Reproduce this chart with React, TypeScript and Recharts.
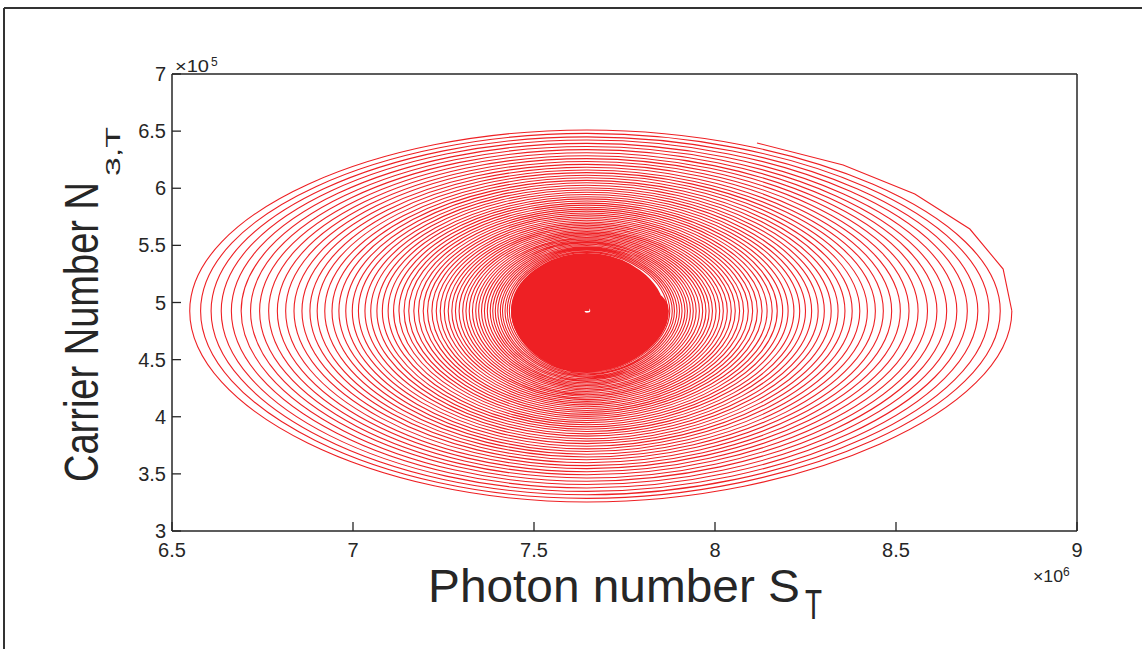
import { LineChart, Line, XAxis, YAxis } from "recharts"

// photon number S (x 10^6) and carrier number N (x 10^5)
// first stretch of the trajectory, read vertex by vertex
const leadS = [8.116, 8.354, 8.552, 8.704, 8.796, 8.82]
const leadN = [6.396, 6.204, 5.95, 5.643, 5.293, 4.926]
const centreS = 7.646
const centreN = 4.926

// extreme points of each turn of the spiral, outermost first
const rightS = [
  8.82, 8.788, 8.757, 8.726, 8.697, 8.668, 8.64, 8.613, 8.587, 8.561,
  8.536, 8.512, 8.488, 8.465, 8.443, 8.421, 8.4, 8.379, 8.359, 8.34,
  8.321, 8.302, 8.285, 8.267, 8.25, 8.234, 8.218, 8.202, 8.187, 8.172,
  8.158, 8.144, 8.13, 8.117, 8.104, 8.092, 8.079, 8.068, 8.056, 8.045,
  8.034, 8.023, 8.013, 8.003, 7.993, 7.984, 7.975, 7.966, 7.957, 7.948,
  7.94, 7.932, 7.924, 7.917, 7.909, 7.902, 7.895, 7.888, 7.882, 7.875, 7.869,
]
const lowN = [
  3.254, 3.286, 3.317, 3.347, 3.377, 3.407, 3.436, 3.464, 3.492, 3.519,
  3.546, 3.572, 3.598, 3.623, 3.648, 3.672, 3.696, 3.719, 3.742, 3.765,
  3.787, 3.808, 3.83, 3.85, 3.871, 3.891, 3.911, 3.93, 3.949, 3.967,
  3.986, 4.003, 4.021, 4.038, 4.055, 4.072, 4.088, 4.104, 4.119, 4.135,
  4.15, 4.164, 4.179, 4.193, 4.207, 4.221, 4.234, 4.247, 4.26, 4.273,
  4.285, 4.297, 4.309, 4.321, 4.332, 4.344, 4.355, 4.366, 4.376, 4.387, 4.397,
]
const leftS = [
  6.549, 6.579, 6.608, 6.636, 6.664, 6.691, 6.717, 6.742, 6.767, 6.791,
  6.814, 6.837, 6.859, 6.881, 6.901, 6.922, 6.942, 6.961, 6.98, 6.998,
  7.015, 7.033, 7.049, 7.066, 7.081, 7.097, 7.112, 7.127, 7.141, 7.154,
  7.168, 7.181, 7.194, 7.206, 7.218, 7.23, 7.241, 7.252, 7.263, 7.273,
  7.283, 7.293, 7.303, 7.312, 7.321, 7.33, 7.339, 7.347, 7.355, 7.363,
  7.371, 7.379, 7.386, 7.393, 7.4, 7.407, 7.413, 7.42, 7.426, 7.432, 7.438,
]
const highN = [
  6.51, 6.48, 6.45, 6.422, 6.393, 6.365, 6.338, 6.311, 6.285, 6.259,
  6.234, 6.209, 6.184, 6.16, 6.137, 6.114, 6.092, 6.069, 6.048, 6.026,
  6.005, 5.985, 5.965, 5.945, 5.926, 5.907, 5.888, 5.87, 5.852, 5.834,
  5.817, 5.8, 5.783, 5.767, 5.751, 5.735, 5.72, 5.705, 5.69, 5.676,
  5.662, 5.648, 5.634, 5.62, 5.607, 5.594, 5.582, 5.569, 5.557, 5.545,
  5.533, 5.522, 5.51, 5.499, 5.488, 5.478, 5.467, 5.457, 5.447, 5.437, 5.427,
]

// the dense core, where single turns can no longer be told apart
const coreRightS = [7.866, 7.853, 7.84, 7.828, 7.815, 7.802, 7.789, 7.777, 7.764, 7.751, 7.739, 7.726, 7.713, 7.7, 7.688, 7.675, 7.662]
const coreLowN = [4.414, 4.444, 4.474, 4.503, 4.533, 4.563, 4.593, 4.622, 4.652, 4.682, 4.712, 4.741, 4.771, 4.801, 4.831, 4.86, 4.89]
const coreLeftS = [7.443, 7.455, 7.467, 7.479, 7.491, 7.502, 7.514, 7.526, 7.538, 7.55, 7.562, 7.574, 7.586, 7.597, 7.609, 7.621, 7.633]
const coreHighN = [5.412, 5.384, 5.356, 5.328, 5.3, 5.272, 5.244, 5.216, 5.188, 5.16, 5.132, 5.104, 5.076, 5.048, 5.02, 4.992, 4.964]

const xTicks = [6.5, 7, 7.5, 8, 8.5, 9]
const yTicks = [3, 3.5, 4, 4.5, 5, 5.5, 6, 6.5, 7]

type Pt = { s: number; n: number }

const turns = (r: number[], lo: number[], l: number[], hi: number[]): Pt[] => {
  const pts: Pt[] = []
  r.forEach((_, k) => {
    pts.push({ s: r[k], n: centreN })
    pts.push({ s: centreS, n: lo[k] })
    pts.push({ s: l[k], n: centreN })
    pts.push({ s: centreS, n: hi[k] })
  })
  return pts
}

const leadPts: Pt[] = leadS.map((s, i) => ({ s, n: leadN[i] }))
const outerPts: Pt[] = turns(rightS, lowN, leftS, highN)
const corePts: Pt[] = [
  outerPts[outerPts.length - 1],
  ...turns(coreRightS, coreLowN, coreLeftS, coreHighN),
  { s: centreS, n: centreN },
]

// local cubic through the quarter-turn points, tangents sized for round turns;
// the first point is an extreme of its turn, so its tangent mirrors the next point
const roundCurve = (context: any) => {
  let pts: number[][] = []
  return {
    areaStart() {},
    areaEnd() {},
    lineStart() {
      pts = []
    },
    point(x: number, y: number) {
      pts.push([x, y])
    },
    lineEnd() {
      const n = pts.length
      if (n < 2) return
      const tan = (i: number) => {
        if (i === 0) {
          const b = pts[1]
          const a = [b[0], 2 * pts[0][1] - b[1]]
          return [(b[0] - a[0]) * 0.785, (b[1] - a[1]) * 0.785]
        }
        const a = pts[i - 1]
        const b = pts[Math.min(i + 1, n - 1)]
        const f = i === n - 1 ? 1 : 0.785
        return [(b[0] - a[0]) * f, (b[1] - a[1]) * f]
      }
      context.moveTo(pts[0][0], pts[0][1])
      for (let i = 0; i < n - 1; i++) {
        const m0 = tan(i)
        const m1 = tan(i + 1)
        context.bezierCurveTo(
          pts[i][0] + m0[0] / 3,
          pts[i][1] + m0[1] / 3,
          pts[i + 1][0] - m1[0] / 3,
          pts[i + 1][1] - m1[1] / 3,
          pts[i + 1][0],
          pts[i + 1][1]
        )
      }
    },
  }
}

const ink = "#262626"
const red = "#ee2024"
const font = "'Liberation Sans', Arial, sans-serif"

export default function App() {
  const tickStyle = { fill: ink, fontSize: 20, fontFamily: font }
  return (
    <div style={{ position: "absolute", left: 0, top: 0, width: 1142, height: 649, background: "#fff" }}>
      <LineChart width={1142} height={649} margin={{ top: 73, right: 64, bottom: 78, left: 112 }}>
        <XAxis
          dataKey="s"
          type="number"
          domain={[6.5, 9]}
          ticks={xTicks}
          height={40}
          stroke={ink}
          tick={tickStyle}
          tickSize={-9}
          tickMargin={21}
          tickFormatter={(v: number) => String(v)}
          axisLine={{ strokeWidth: 1.5 }}
          tickLine={{ strokeWidth: 1.3 }}
          allowDataOverflow
        />
        <XAxis
          xAxisId="top"
          orientation="top"
          type="number"
          domain={[6.5, 9]}
          ticks={xTicks}
          height={1}
          stroke={ink}
          tick={false}
          tickSize={-9}
          axisLine={{ strokeWidth: 1.5 }}
          tickLine={{ strokeWidth: 1.3 }}
          allowDataOverflow
        />
        <YAxis
          dataKey="n"
          type="number"
          domain={[3, 7]}
          ticks={yTicks}
          width={60}
          stroke={ink}
          tick={tickStyle}
          tickSize={-9}
          tickMargin={15}
          tickFormatter={(v: number) => String(v)}
          axisLine={{ strokeWidth: 1.5 }}
          tickLine={{ strokeWidth: 1.3 }}
          allowDataOverflow
        />
        <YAxis
          yAxisId="right"
          orientation="right"
          type="number"
          domain={[3, 7]}
          ticks={yTicks}
          width={1}
          stroke={ink}
          tick={false}
          tickSize={-9}
          axisLine={{ strokeWidth: 1.5 }}
          tickLine={{ strokeWidth: 1.3 }}
          allowDataOverflow
        />
        <Line
          data={leadPts}
          dataKey="n"
          type="linear"
          stroke={red}
          strokeWidth={1.1}
          dot={false}
          activeDot={false}
          isAnimationActive={false}
        />
        <Line
          data={outerPts}
          dataKey="n"
          type={roundCurve as any}
          stroke={red}
          strokeWidth={1.1}
          dot={false}
          activeDot={false}
          isAnimationActive={false}
        />
        <Line
          data={corePts}
          dataKey="n"
          type={roundCurve as any}
          stroke={red}
          strokeWidth={4.8}
          strokeLinejoin="round"
          dot={false}
          activeDot={false}
          isAnimationActive={false}
        />
      </LineChart>

      <svg
        width={1142}
        height={649}
        style={{ position: "absolute", left: 0, top: 0, pointerEvents: "none" }}
        fontFamily={font}
        fill={ink}
      >
        <line x1={4} y1={8} x2={1142} y2={8} stroke="#333" strokeWidth={2} />
        <line x1={4} y1={8} x2={4} y2={649} stroke="#333" strokeWidth={2} />

        <text fontSize={16} x={175} y={72} textLength={34} lengthAdjust="spacingAndGlyphs">×10</text>
        <text fontSize={12} x={211} y={66}>5</text>
        <text fontSize={16} x={1033} y={582} textLength={30} lengthAdjust="spacingAndGlyphs">×10</text>
        <text fontSize={12} x={1063} y={576}>6</text>

        <text fontSize={47} x={428} y={602} textLength={372} lengthAdjust="spacingAndGlyphs">Photon number S</text>
        <text fontSize={42} x={805} y={619} textLength={17} lengthAdjust="spacingAndGlyphs">T</text>

        <text fontSize={48} transform="translate(98,482) rotate(-90)" textLength={300} lengthAdjust="spacingAndGlyphs">
          Carrier Number N
        </text>
        <text fontSize={21} transform="translate(120,176) rotate(-90)" textLength={49} lengthAdjust="spacingAndGlyphs">
          3,T
        </text>
      </svg>
    </div>
  )
}
